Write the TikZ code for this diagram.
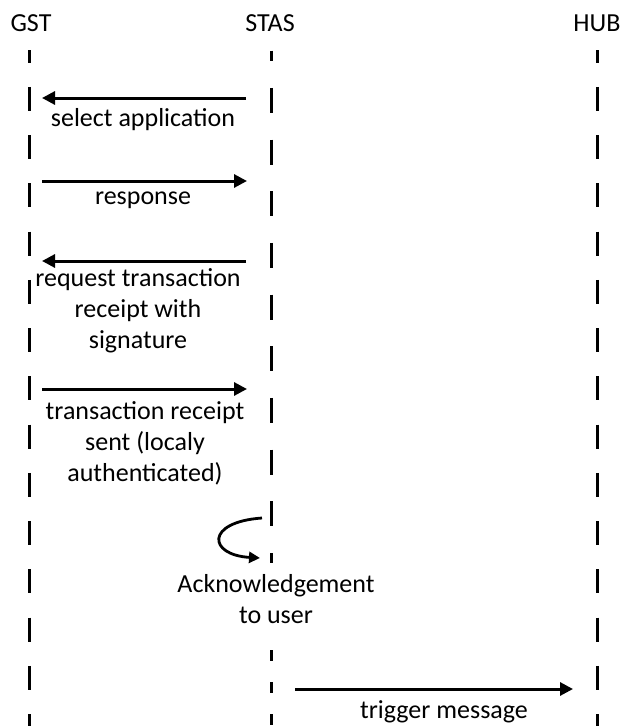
\documentclass[tikz,border=0pt]{standalone}
\usepackage{fontspec}
\setmainfont{Carlito}
\usetikzlibrary{arrows.meta}
\begin{document}
\begin{tikzpicture}[x=1pt,y=-1pt,
  lbl/.style={inner sep=0pt,align=center,font=\fontsize{26}{31}\selectfont},
  life/.style={line width=3pt,dash pattern=on 24pt off 24.25pt,dash phase=11.5pt},
  msg/.style={line width=3pt,-{Triangle[length=13pt,width=13pt]}},
]
\useasboundingbox (0,0) rectangle (621,726);
% headers
\node[lbl] (gst) at (31,23) {GST};
\node[lbl] (stas) at (270,23) {STAS};
\node[lbl] (hub) at (597,23) {HUB};
% lifeline coordinates
\coordinate (gtop) at (29.5,50);
\coordinate (gbot) at (29.5,726);
\coordinate (htop) at (597.5,50);
\coordinate (hbot) at (597.5,726);
\coordinate (stop) at (271,50.7);
\coordinate (smid) at (271,563);
\coordinate (slow) at (271,650);
\coordinate (sbot) at (271,726);
\draw[life] (gtop) -- (gbot);
\draw[life] (htop) -- (hbot);
\draw[line width=3pt,dash pattern=on 25pt off 26.67pt,dash phase=14.4pt] (stop) -- (smid);
\draw[line width=3pt,dash pattern=on 11pt off 21pt] (slow) -- (sbot);
% message endpoints
\coordinate (a1s) at (246,98);  \coordinate (a1e) at (42,98);
\coordinate (a2s) at (42,181);  \coordinate (a2e) at (247,181);
\coordinate (a3s) at (246,261); \coordinate (a3e) at (42,261);
\coordinate (a4s) at (42,389);  \coordinate (a4e) at (247,389);
\coordinate (a5s) at (295,689); \coordinate (a5e) at (573,689);
\coordinate (l1) at (262,518);  \coordinate (l2) at (260,558);
\draw[msg] (a1s) -- (a1e);
\draw[msg] (a2s) -- (a2e);
\draw[msg] (a3s) -- (a3e);
\draw[msg] (a4s) -- (a4e);
\draw[msg] (a5s) -- (a5e);
\draw[line width=2.8pt,-{Triangle[length=11pt,width=11pt]}] (l1) .. controls (205,522) and (208,555) .. (l2);
% labels
\node[lbl] (t1) at (143,120) {select application};
\node[lbl] (t2) at (143,200) {response};
\node[lbl] (t3) at (138,311) {request transaction\\receipt with\\signature};
\node[lbl] (t4) at (145,443) {transaction receipt\\sent (localy\\authenticated)};
\node[lbl] (t5) at (276,599.5) {Acknowledgement\\to user};
\node[lbl] (t6) at (444,712) {trigger message};
\end{tikzpicture}
\end{document}
